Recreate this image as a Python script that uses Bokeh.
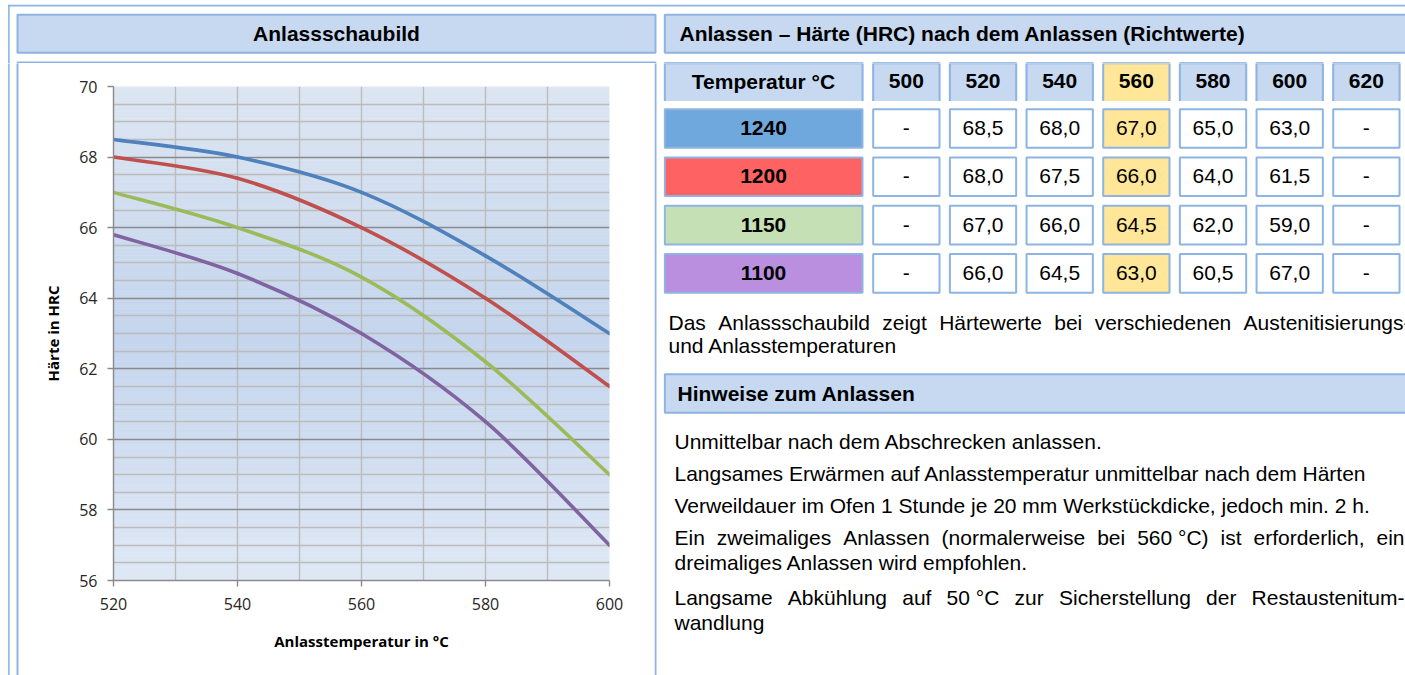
import numpy as np
from bokeh.plotting import figure
from bokeh.models import Range1d, FixedTicker, ColumnDataSource
from bokeh.layouts import row, column
from bokeh.core.properties import value
from bokeh.embed import file_html
from bokeh.resources import INLINE

# ---------------- chart data ----------------
anlass_temp = [520, 540, 560, 580, 600]
hrc_1240 = [68.5, 68.0, 67.0, 65.2, 63.0]
hrc_1200 = [68.0, 67.4, 66.0, 64.0, 61.5]
hrc_1150 = [67.0, 66.0, 64.6, 62.2, 59.0]
hrc_1100 = [65.8, 64.7, 63.0, 60.5, 57.0]

x_tick_values = [520, 540, 560, 580, 600]
x_minor_values = [530, 550, 570, 590]
y_tick_values = [56, 58, 60, 62, 64, 66, 68, 70]
y_minor_values = [56.5, 57, 57.5, 58.5, 59, 59.5, 60.5, 61, 61.5, 62.5, 63, 63.5,
                  64.5, 65, 65.5, 66.5, 67, 67.5, 68.5, 69, 69.5]

x_axis_title = "Anlasstemperatur in °C"
y_axis_title = "Härte in HRC"

# ---------------- table data ----------------
table_temps = ["500", "520", "540", "560", "580", "600", "620"]
austenit_temps = ["1240", "1200", "1150", "1100"]
hrc_row_1240 = ["-", "68,5", "68,0", "67,0", "65,0", "63,0", "-"]
hrc_row_1200 = ["-", "68,0", "67,5", "66,0", "64,0", "61,5", "-"]
hrc_row_1150 = ["-", "67,0", "66,0", "64,5", "62,0", "59,0", "-"]
hrc_row_1100 = ["-", "66,0", "64,5", "63,0", "60,5", "67,0", "-"]
table_rows = [hrc_row_1240, hrc_row_1200, hrc_row_1150, hrc_row_1100]

title_left = "Anlassschaubild"
title_right = "Anlassen – Härte (HRC) nach dem Anlassen (Richtwerte)"
table_corner = "Temperatur °C"
hinweise_title = "Hinweise zum Anlassen"
intro_lines = ["Das Anlassschaubild zeigt Härtewerte bei verschiedenen Austenitisierungs-",
               "und Anlasstemperaturen"]
hint_lines = ["Unmittelbar nach dem Abschrecken anlassen.",
              "Langsames Erwärmen auf Anlasstemperatur unmittelbar nach dem Härten",
              "Verweildauer im Ofen 1 Stunde je 20 mm Werkstückdicke, jedoch min. 2 h.",
              "Ein zweimaliges Anlassen (normalerweise bei 560 °C) ist erforderlich, ein",
              "dreimaliges Anlassen wird empfohlen.",
              "Langsame Abkühlung auf 50 °C zur Sicherstellung der Restaustenitum-",
              "wandlung"]
hint_justified = [False, False, False, True, False, True, False]

# ---------------- styles ----------------
BORDER = "#8DB4E2"
HEAD_FILL = "#C6D9F1"
HIGHLIGHT = "#FFE699"
ROW_FILLS = ["#6FA8DC", "#FF6262", "#C5E0B4", "#BA8FDF"]
SERIES_COLORS = ["#4F81BD", "#C0504D", "#9BBB59", "#8064A2"]
HTML_FONT = "Liberation Sans"
CHART_FONT = "Open Sans"
FS = "21px"
FSN = 21.0
BASE = -0.5  # empirical offset from visual text centre to the y given to Bokeh

AR = {' ': 278, '(': 333, ')': 333, ',': 278, '-': 333, '.': 278, '°': 400, '–': 556,
      'A': 667, 'B': 667, 'C': 722, 'D': 722, 'E': 667, 'F': 611, 'G': 778, 'H': 722,
      'I': 278, 'J': 500, 'K': 667, 'L': 556, 'M': 833, 'N': 722, 'O': 778, 'P': 667,
      'Q': 778, 'R': 722, 'S': 667, 'T': 611, 'U': 722, 'V': 667, 'W': 944, 'X': 667,
      'Y': 667, 'Z': 611, 'a': 556, 'b': 556, 'c': 500, 'd': 556, 'e': 556, 'f': 278,
      'g': 556, 'h': 556, 'i': 222, 'j': 222, 'k': 500, 'l': 222, 'm': 833, 'n': 556,
      'o': 556, 'p': 556, 'q': 556, 'r': 333, 's': 500, 't': 278, 'u': 556, 'v': 500,
      'w': 722, 'x': 500, 'y': 500, 'z': 500, 'ä': 556, 'ö': 556, 'ü': 556, 'ß': 611}


def text_w(s):
    return sum(AR.get(c, 556) for c in s) / 1000.0 * FSN


# ---------------- page geometry (picture pixel coordinates) ----------------
PAGE_W, PAGE_H = 1405, 675
TOP_H = 63
COL0 = 871.7
COL_PITCH = 76.67
COL_W = 68.3
ROW0 = 107.7
ROW_PITCH = 48.3
ROW_H = 40.6


def col_left(i):
    return COL0 + i * COL_PITCH


def no_align(p):
    try:
        p.frame_align = False
    except Exception:
        pass


def canvas(x0, x1, y0, y1):
    p = figure(x_range=Range1d(x0, x1), y_range=Range1d(y1, y0),
               width=x1 - x0, height=y1 - y0, min_border=0,
               toolbar_location=None, tools="", output_backend="svg",
               x_axis_type=None, y_axis_type=None, outline_line_color=None,
               background_fill_color="white", border_fill_color="white")
    p.grid.visible = False
    no_align(p)
    return p


def draw_boxes(p):
    # outer page frame lines
    p.quad(left=[7.6, 7.6], right=[9.2, 1460.0], top=[4.3, 4.3], bottom=[720.0, 5.9],
           fill_color=BORDER, line_color=None)
    boxes = []  # l, r, t, b, fill
    boxes.append((16.0, 656.0, 13.3, 53.3, HEAD_FILL))
    boxes.append((16.0, 656.0, 61.0, 740.0, "white"))
    boxes.append((663.3, 1460.0, 13.3, 53.3, HEAD_FILL))
    for r in range(len(austenit_temps)):
        t = ROW0 + r * ROW_PITCH
        boxes.append((663.3, 863.0, t, t + ROW_H, ROW_FILLS[r]))
        for i in range(len(table_temps)):
            l = col_left(i)
            boxes.append((l, l + COL_W, t, t + ROW_H, HIGHLIGHT if i == 3 else "white"))
    boxes.append((663.3, 1460.0, 372.7, 413.3, HEAD_FILL))
    p.quad(left=[b[0] + 1 for b in boxes], right=[b[1] - 1 for b in boxes],
           top=[b[2] + 1 for b in boxes], bottom=[b[3] - 1 for b in boxes],
           fill_color=[b[4] for b in boxes], line_color=BORDER, line_width=2)
    # header cells of the table (open at the bottom)
    cells = [(663.3, 863.0, HEAD_FILL)]
    for i in range(len(table_temps)):
        l = col_left(i)
        cells.append((l, l + COL_W, HIGHLIGHT if i == 3 else HEAD_FILL))
    top, bot = 61.7, 100.5
    p.quad(left=[c[0] for c in cells], right=[c[1] for c in cells],
           top=[top] * len(cells), bottom=[bot] * len(cells),
           fill_color=[c[2] for c in cells], line_color=None)
    p.multi_line(xs=[[c[0] + 1, c[0] + 1, c[1] - 1, c[1] - 1] for c in cells],
                 ys=[[bot, top + 1, top + 1, bot] for _ in cells],
                 line_color=BORDER, line_width=2)


def put_text(p, xs, ys, texts, align="left", bold=False):
    p.text(x=xs, y=[y + BASE for y in ys], text=texts, text_font=value(HTML_FONT),
           text_font_size=FS, text_font_style="bold" if bold else "normal",
           text_align=align, text_baseline="alphabetic", text_color="#000000")


def put_justified(p, line, x_left, x_right, y):
    raw = line.split(" ")
    words = []
    for w in raw:
        # keep pure numbers together with the following word so every piece
        # is laid out with the same text metrics
        if words and words[-1].isdigit():
            words[-1] = words[-1] + " " + w
        else:
            words.append(w)
    widths = [text_w(w) for w in words]
    gap = (x_right - x_left - sum(widths)) / (len(words) - 1)
    xs, x = [], x_left
    for w in widths:
        xs.append(x)
        x += w + gap
    put_text(p, xs, [y] * len(words), words)


# ---------------- figures ----------------
top_fig = canvas(0, PAGE_W, 0, TOP_H)
strip_l = canvas(0, 19, TOP_H, PAGE_H)
strip_r = canvas(654, 663, TOP_H, PAGE_H)
right_fig = canvas(663, PAGE_W, TOP_H, PAGE_H)
for f in (top_fig, strip_l, strip_r, right_fig):
    draw_boxes(f)

put_text(top_fig, [336.0], [33.3], [title_left], align="center", bold=True)
put_text(top_fig, [679.0], [33.3], [title_right], bold=True)

# table texts
col_centers = [col_left(i) + COL_W / 2 for i in range(len(table_temps))]
put_text(right_fig, [763.0] + col_centers, [81.0] * (len(table_temps) + 1),
         [table_corner] + table_temps, align="center", bold=True)
row_centers = [ROW0 + r * ROW_PITCH + ROW_H / 2 for r in range(len(austenit_temps))]
put_text(right_fig, [763.0] * len(austenit_temps), row_centers, austenit_temps,
         align="center", bold=True)
vx, vy, vt = [], [], []
for r, vals in enumerate(table_rows):
    for i, v in enumerate(vals):
        vx.append(col_centers[i])
        vy.append(row_centers[r])
        vt.append(v)
put_text(right_fig, vx, vy, vt, align="center")

# paragraphs
put_justified(right_fig, intro_lines[0], 668.0, 1410.0, 322.5)
put_text(right_fig, [668.0], [345.5], [intro_lines[1]])
put_text(right_fig, [677.0], [393.0], [hinweise_title], bold=True)
hint_y = [441.0, 473.0, 505.0, 537.0, 562.0, 597.0, 622.0]
for line, y, just in zip(hint_lines, hint_y, hint_justified):
    if just:
        put_justified(right_fig, line, 674.0, 1404.0, y)
    else:
        put_text(right_fig, [674.0], [y], [line])

# ---------------- chart ----------------
chart = figure(x_range=Range1d(520, 600), y_range=Range1d(56, 70),
               width=654 - 19, height=PAGE_H - TOP_H,
               min_border_left=113 - 19, min_border_right=654 - 609,
               min_border_top=86 - TOP_H, min_border_bottom=PAGE_H - 580,
               toolbar_location=None, tools="", output_backend="svg",
               outline_line_color=None, background_fill_color="white",
               border_fill_color="white")
no_align(chart)

# gradient plot-area fill (style only)
edges = np.linspace(56, 70, 141)
mid = (edges[:-1] + edges[1:]) / 2
stops_y = [56.0, 63.0, 70.0]
stops_c = [(223, 232, 245), (196, 213, 237), (221, 230, 242)]
cols = []
for m in mid:
    rgb = [int(round(np.interp(m, stops_y, [c[k] for c in stops_c]))) for k in range(3)]
    cols.append("#%02x%02x%02x" % tuple(rgb))
chart.quad(left=520, right=600, bottom=edges[:-1], top=edges[1:], fill_color=cols,
           line_color=cols, line_width=0.6, level="image")

xt = FixedTicker(ticks=x_tick_values, minor_ticks=x_minor_values)
yt = FixedTicker(ticks=y_tick_values, minor_ticks=y_minor_values)
chart.xaxis.ticker = xt
chart.xgrid.ticker = xt
chart.yaxis.ticker = yt
chart.ygrid.ticker = yt

chart.xgrid.grid_line_color = "#BCBCBC"
chart.xgrid.grid_line_width = 1.4
chart.xgrid.minor_grid_line_color = "#BCBCBC"
chart.xgrid.minor_grid_line_width = 1.4
chart.ygrid.grid_line_color = "#8A8A8A"
chart.ygrid.grid_line_width = 1.4
chart.ygrid.minor_grid_line_color = "#BCBCBC"
chart.ygrid.minor_grid_line_width = 1.4

for ax in (chart.xaxis, chart.yaxis):
    ax.axis_line_color = "#8A8A8A"
    ax.axis_line_width = 1.4
    ax.major_tick_line_color = "#8A8A8A"
    ax.major_tick_line_width = 1.4
    ax.major_tick_out = 6
    ax.major_tick_in = 0
    ax.minor_tick_line_color = None
    ax.major_label_text_font = CHART_FONT
    ax.major_label_text_font_size = "16px"
    ax.major_label_text_color = "#262626"
    ax.axis_label_text_font = CHART_FONT
    ax.axis_label_text_font_size = "15px"
    ax.axis_label_text_font_style = "bold"
    ax.axis_label_text_color = "#000000"

chart.xaxis.axis_label = x_axis_title
chart.yaxis.axis_label = y_axis_title
chart.xaxis.major_label_standoff = 11
chart.yaxis.major_label_standoff = 10
chart.xaxis.axis_label_standoff = 18
chart.yaxis.axis_label_standoff = 13


def bezier_segments(xs, ys):
    n = len(xs)
    d = {k: [] for k in ("x0", "y0", "x1", "y1", "cx0", "cy0", "cx1", "cy1")}
    for i in range(n - 1):
        i0 = max(i - 1, 0)
        i3 = min(i + 2, n - 1)
        d["x0"].append(xs[i]); d["y0"].append(ys[i])
        d["x1"].append(xs[i + 1]); d["y1"].append(ys[i + 1])
        d["cx0"].append(xs[i] + (xs[i + 1] - xs[i0]) / 6.0)
        d["cy0"].append(ys[i] + (ys[i + 1] - ys[i0]) / 6.0)
        d["cx1"].append(xs[i + 1] - (xs[i3] - xs[i]) / 6.0)
        d["cy1"].append(ys[i + 1] - (ys[i3] - ys[i]) / 6.0)
    return ColumnDataSource(d)


for ys, color in zip([hrc_1240, hrc_1200, hrc_1150, hrc_1100], SERIES_COLORS):
    chart.bezier(x0="x0", y0="y0", x1="x1", y1="y1", cx0="cx0", cy0="cy0",
                 cx1="cx1", cy1="cy1", source=bezier_segments(anlass_temp, ys),
                 line_color=color, line_width=3.6, line_cap="round")

layout = column(top_fig, row(strip_l, chart, strip_r, right_fig, spacing=0), spacing=0)

with open("out.html", "w") as fh:
    fh.write(file_html(layout, INLINE))
